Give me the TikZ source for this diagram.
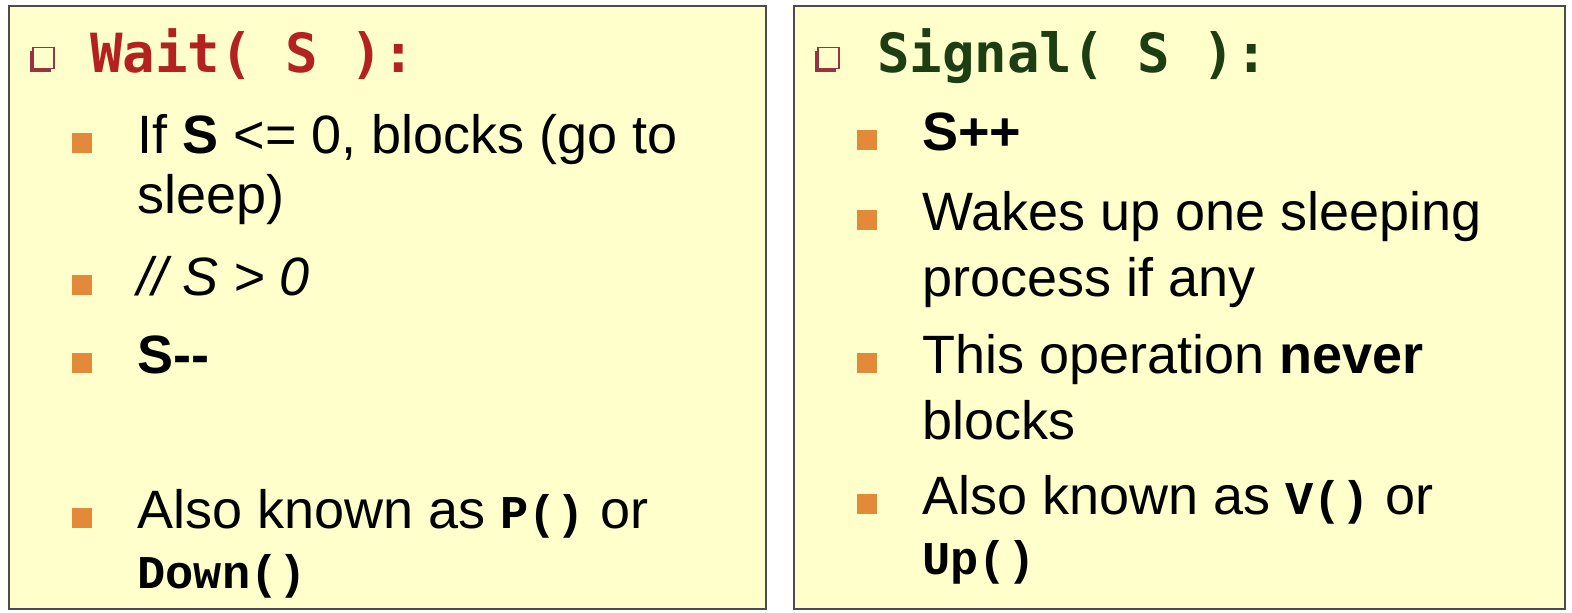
\documentclass[tikz,border=0pt]{standalone}
\usepackage{fontspec}
\setmainfont{Liberation Sans}
\setmonofont{Liberation Mono}
\newfontfamily\headfont{DejaVu Sans Mono}
\usetikzlibrary{shadows}

\definecolor{slidebg}{HTML}{FFFFCC}
\definecolor{bulletorange}{HTML}{E38A3A}
\definecolor{waitred}{HTML}{B3221E}
\definecolor{signalgreen}{HTML}{1D3D12}
\definecolor{boxred}{HTML}{993340}

\newcommand\ItemLines[1]{\begin{tabular}[t]{@{}l@{}}#1\end{tabular}}
\newcommand\Code[1]{{\ttfamily\bfseries\fontsize{23.5}{30}\selectfont #1}}

\begin{document}
\begin{tikzpicture}[x=0.5pt,y=-0.5pt]

    \tikzset{
      Panel/.style = {draw=black!70, line width=1.2pt, fill=slidebg},
      HeadText/.style = {anchor=base west, inner sep=0pt,
                         font=\headfont\bfseries\fontsize{27}{32}\selectfont},
      HeadBox/.style = {draw=boxred, fill=slidebg, line width=0.6pt,
                        minimum size=10.5pt, inner sep=0pt,
                        general shadow={fill=boxred, shadow xshift=-1.6pt,
                                        shadow yshift=-1.6pt}},
      ItemText/.style = {anchor=base west, inner sep=0pt,
                         font=\fontsize{27}{30}\selectfont},
      Bullet/.style = {fill=bulletorange, minimum size=10pt, inner sep=0pt} }
    \useasboundingbox (0,0) rectangle (1572,612);

    % the two panels
    \draw[Panel] (9,6) rectangle (766,609);
    \draw[Panel] (794,6) rectangle (1565,609);

    % Wait
    \node[HeadBox] (wbox) at (43.5,58) {};
    \node[HeadText, text=waitred] (wait) at (90,72) {Wait( S ):};
    \node[ItemText] (w1) at (137,153)
      {\ItemLines{If \textbf{S} <= 0, blocks (go to\\sleep)}};
    \node[ItemText] (w2) at (137,295) {\textit{// S > 0}};
    \node[ItemText] (w3) at (137,373) {\textbf{S-{}-}};
    \node[ItemText] (w4) at (137,528)
      {\ItemLines{Also known as \Code{P()} or\\\Code{Down()}}};

    % Signal
    \node[HeadBox] (sbox) at (828.5,58) {};
    \node[HeadText, text=signalgreen] (signal) at (877,72) {Signal( S ):};
    \node[ItemText] (s1) at (922,150) {\textbf{S++}};
    \node[ItemText] (s2) at (922,230)
      {\ItemLines{Wakes up one sleeping\\[3pt]process if any}};
    \node[ItemText] (s3) at (922,373)
      {\ItemLines{This operation \textbf{never}\\[3pt]blocks}};
    \node[ItemText] (s4) at (922,514)
      {\ItemLines{Also known as \Code{V()} or\\\Code{Up()}}};

    \foreach \n in {w1,w2,w3,w4,s1,s2,s3,s4}
      \node[Bullet] (\n b) at ([xshift=-27.5pt,yshift=5.25pt]\n.base west) {};

\end{tikzpicture}
\end{document}
